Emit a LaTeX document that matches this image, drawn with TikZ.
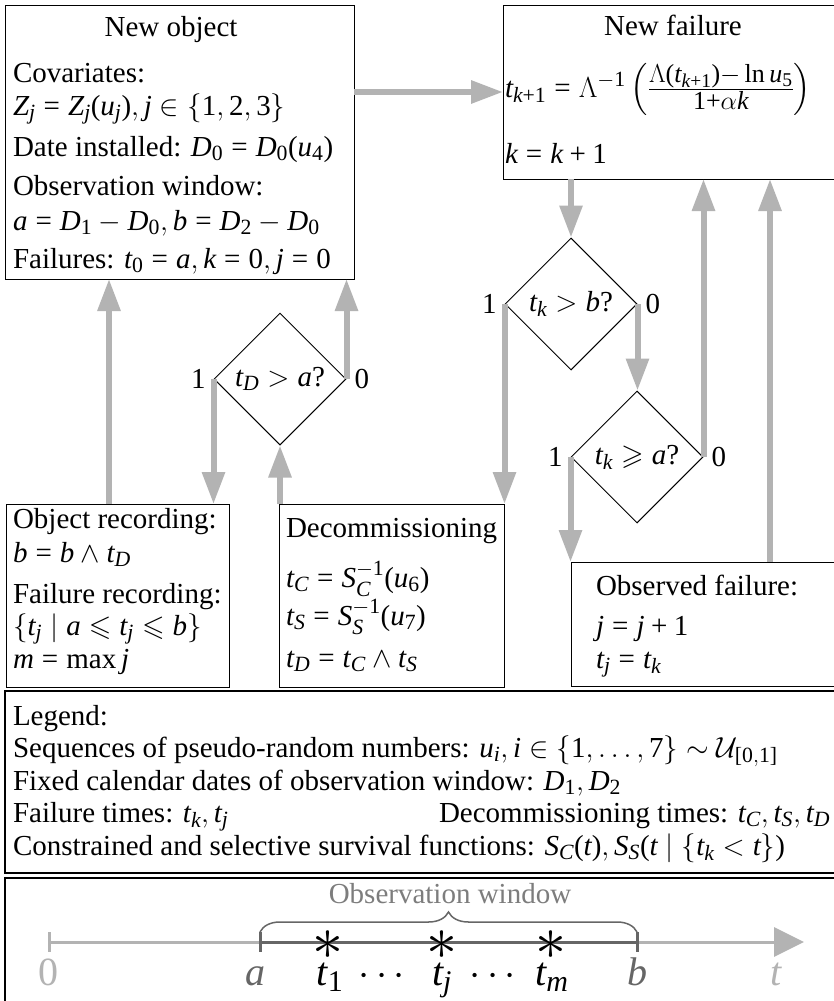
\documentclass[tikz,border=0pt]{standalone}
\usepackage{fix-cm}
\usepackage{amsmath,amssymb}
\DeclareFontFamily{U}{msa}{}
\DeclareFontShape{U}{msa}{m}{n}{<->msam10}{}
\usepackage[no-math]{fontspec}
\setmainfont{Liberation Serif}
\DeclareMathSizes{29}{29}{21.75}{17.4}
\DeclareMathSizes{40}{40}{30}{24}
\DeclareMathSizes{26}{26}{19.5}{15.6}
\DeclareSymbolFont{tletters}{TU}{\rmdefault}{m}{it}
\DeclareSymbolFont{troman}{TU}{\rmdefault}{m}{n}
\makeatletter
\def\my@declL#1{\DeclareMathSymbol{#1}{\mathalpha}{tletters}{`#1}}
\@tfor\my@tmp:=abcdefghijklmnopqrstuvwxyzABCDEFGHIJKLMNOPQRSTUVWXYZ\do{\expandafter\my@declL\my@tmp}
\def\my@declD#1{\DeclareMathSymbol{#1}{\mathalpha}{troman}{`#1}}
\@tfor\my@tmp:=0123456789\do{\expandafter\my@declD\my@tmp}
\DeclareMathSymbol{(}{\mathopen}{troman}{`(}
\DeclareMathSymbol{)}{\mathclose}{troman}{`)}
\DeclareMathSymbol{[}{\mathopen}{troman}{`[}
\DeclareMathSymbol{]}{\mathclose}{troman}{`]}
\DeclareMathSymbol{+}{\mathbin}{troman}{`+}
\DeclareMathSymbol{=}{\mathrel}{troman}{`=}
\DeclareMathSymbol{?}{\mathclose}{troman}{`?}
\renewcommand{\operator@font}{\mathgroup\symtroman}
\makeatother
\newcommand{\fracsz}[1]{\mbox{\fontsize{26}{30}\selectfont$#1$}}
\usetikzlibrary{arrows.meta,shapes.geometric,decorations.pathreplacing}
\definecolor{argray}{RGB}{179,179,179}
\definecolor{dkgray}{RGB}{102,102,102}
\definecolor{wingray}{RGB}{125,125,125}
\begin{document}
\begin{tikzpicture}[x=1pt,y=-1pt,
  every node/.style={font=\fontsize{29}{35}\selectfont},
  box/.style={draw, line width=1pt, anchor=north west, inner sep=0pt, outer sep=0pt},
  bigbox/.style={box, line width=1.6pt},
  txt/.style={anchor=base west, inner sep=0pt, outer sep=0pt},
  lbl/.style={inner sep=0pt, outer sep=0pt},
  big/.style={font=\fontsize{40}{48}\selectfont},
  star/.style={lbl, font=\fontsize{62}{70}\selectfont},
  dia/.style={diamond, draw, line width=1pt, aspect=1, minimum width=132pt, minimum height=132pt, inner sep=0pt},
  arr/.style={draw=argray, line width=6pt, -{Triangle[length=32pt,width=22pt]}},
]
\path[use as bounding box, fill=white] (0,0) rectangle (834,1001);

% boxes
\node[box, minimum width=349pt, minimum height=274pt] (nobj) at (5,5) {};
\node[box, minimum width=345pt, minimum height=174pt] (nfail) at (503,5) {};
\node[box, minimum width=223pt, minimum height=183pt] (objrec) at (6,504) {};
\node[box, minimum width=225pt, minimum height=183pt] (decom) at (279,504) {};
\node[box, minimum width=280pt, minimum height=124pt] (obs) at (571,562) {};
\node[bigbox, minimum width=840pt, minimum height=182pt] (legend) at (5,691) {};
\node[bigbox, minimum width=840pt, minimum height=140pt] (tline) at (5,878) {};

% diamonds
\node[dia] (d0) at (280,379) {$t_D > a?$};
\node[dia] (d1) at (571,304) {$t_k > b?$};
\node[dia] (d2) at (637,457) {$t_k \geqslant a?$};

% arrows
\draw[arr] (nobj.east |- nfail.west) -- (nfail.west);
\draw[arr] (d1.north |- nfail.south) -- (d1.north);
\draw[arr] (d1.east) -- (d1.east |- d2.north);
\draw[arr] (d1.west) -- (d1.west |- decom.north);
\draw[arr] (d2.west) -- (d2.west |- obs.north);
\draw[arr] (d2.east) -- (d2.east |- nfail.south);
\draw[arr] ([xshift=199pt]obs.north west) -- ([xshift=199pt]obs.north west |- nfail.south);
\draw[arr] (d0.west) -- (d0.west |- objrec.north);
\draw[arr] (d0.east) -- (d0.east |- nobj.south);
\draw[arr] (d0.south |- decom.north) -- (d0.south);
\draw[arr] ([xshift=103pt]objrec.north west) -- ([xshift=103pt]objrec.north west |- nobj.south);

% diamond branch labels
\node[lbl, anchor=east] (d0one) at ([xshift=-8pt]d0.west) {1};
\node[lbl, anchor=west] (d0zero) at ([xshift=8pt]d0.east) {0};
\node[lbl, anchor=east] (d1one) at ([xshift=-8pt]d1.west) {1};
\node[lbl, anchor=west] (d1zero) at ([xshift=8pt]d1.east) {0};
\node[lbl, anchor=east] (d2one) at ([xshift=-8pt]d2.west) {1};
\node[lbl, anchor=west] (d2zero) at ([xshift=8pt]d2.east) {0};

% New object
\node[lbl, anchor=base] (nobjt) at (171,36) {New object};
\node[txt] (nobj1) at (13,82) {Covariates:};
\node[txt] (nobj2) at (13,115) {$Z_j = Z_j(u_j), j \in \{1,2,3\}$};
\node[txt] (nobj3) at (13,156) {Date installed: $D_0 = D_0(u_4)$};
\node[txt] (nobj4) at (13,195) {Observation window:};
\node[txt] (nobj5) at (13,230) {$a = D_1 - D_0, b = D_2 - D_0$};
\node[txt] (nobj6) at (13,268) {Failures: $t_0 = a, k = 0, j = 0$};

% New failure
\node[lbl, anchor=base] (nfailt) at (673,35) {New failure};
\node[txt] (nfail1) at (505,97) {$t_{k+1} = \Lambda^{-1}\left(\frac{\fracsz{\Lambda(t_{k+1}){-}\ln u_5}}{\fracsz{1{+}\alpha k}}\right)$};
\node[txt] (nfail2) at (505,163) {$k = k + 1$};

% Object recording
\node[txt] (or1) at (13,528) {Object recording:};
\node[txt] (or2) at (13,562) {$b = b \wedge t_D$};
\node[txt] (or3) at (13,603) {Failure recording:};
\node[txt] (or4) at (13,635) {$\{t_j \mid a \leqslant t_j \leqslant b\}$};
\node[txt] (or5) at (13,668) {$m = \max j$};

% Decommissioning
\node[txt] (dc1) at (286,537) {Decommissioning};
\node[txt] (dc2) at (286,587) {$t_C = S_C^{-1}(u_6)$};
\node[txt] (dc3) at (286,625) {$t_S = S_S^{-1}(u_7)$};
\node[txt] (dc4) at (286,667) {$t_D = t_C \wedge t_S$};

% Observed failure
\node[txt] (of1) at (596,595) {Observed failure:};
\node[txt] (of2) at (596,635) {$j = j + 1$};
\node[txt] (of3) at (596,668) {$t_j = t_k$};

% Legend
\node[txt] (lg1) at (13,725) {Legend:};
\node[txt] (lg2) at (13,757) {Sequences of pseudo-random numbers: $u_i, i \in \{1,\ldots,7\} \sim \mathcal{U}_{[0,1]}$};
\node[txt] (lg3) at (13,790) {Fixed calendar dates of observation window: $D_1, D_2$};
\node[txt] (lg4) at (13,822) {Failure times: $t_k, t_j$};
\node[txt] (lg4b) at (439,822) {Decommissioning times: $t_C, t_S, t_D$};
\node[txt] (lg5) at (13,855) {Constrained and selective survival functions: $S_C(t), S_S(t \mid \{t_k < t\})$};

% Timeline
\coordinate (t0) at (49,942);
\coordinate (ta) at (260,942);
\coordinate (tb) at (637,942);
\coordinate (tend) at (804,942);
\draw[argray, line width=3pt] (t0) -- (ta);
\draw[dkgray, line width=3pt] (ta) -- (tb);
\draw[argray, line width=3pt, -{Triangle[length=30pt,width=29pt]}] (tb) -- (tend);
\draw[argray, line width=3pt] ([yshift=10pt]t0) -- ([yshift=-10pt]t0);
\draw[dkgray, line width=3pt] ([yshift=10pt]ta) -- ([yshift=-10pt]ta);
\draw[dkgray, line width=3pt] ([yshift=10pt]tb) -- ([yshift=-10pt]tb);
\draw[dkgray, line width=1.5pt, decorate, decoration={brace, amplitude=20pt}] ([yshift=10pt]ta) -- ([yshift=10pt]tb);
\node[lbl, anchor=base, text=wingray] (obswin) at (450,903) {Observation window};
\node[star] (s1) at (328,959) {$\smash{\ast}$};
\node[star] (s2) at (442,959) {$\smash{\ast}$};
\node[star] (s3) at (551,959) {$\smash{\ast}$};
\node[lbl, big, anchor=base, text=argray] (l0) at (48,985) {0};
\node[lbl, big, anchor=base, text=dkgray] (la) at (255,985) {$a$};
\node[lbl, big, anchor=base] (l1) at (330,985) {$t_1$};
\node[lbl, big, anchor=base] (ld1) at (385,985) {$\cdots$};
\node[lbl, big, anchor=base] (lj) at (442,985) {$t_j$};
\node[lbl, big, anchor=base] (ld2) at (496,985) {$\cdots$};
\node[lbl, big, anchor=base] (lm) at (552,985) {$t_m$};
\node[lbl, big, anchor=base, text=dkgray] (lb) at (637,985) {$b$};
\node[lbl, big, anchor=base, text=argray] (lt) at (776,985) {$t$};
\end{tikzpicture}
\end{document}
